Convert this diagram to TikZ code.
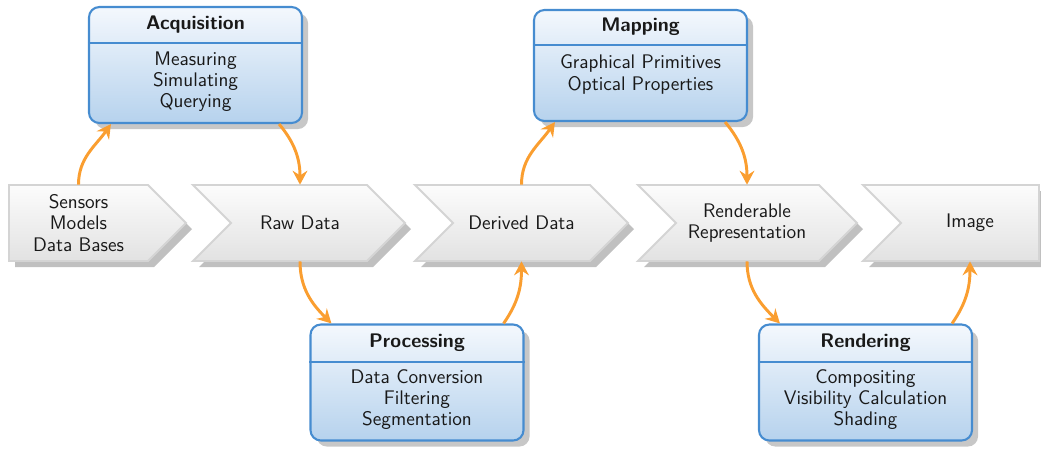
\documentclass[tikz,border=0pt]{standalone}
\usetikzlibrary{arrows.meta,calc,shadows}
\definecolor{boxblue}{RGB}{70,140,208}
\definecolor{boxtop}{RGB}{244,248,253}
\definecolor{boxbot}{RGB}{182,210,237}
\definecolor{flowcol}{RGB}{250,158,48}
\definecolor{chevline}{RGB}{212,212,212}
\definecolor{chevshade}{RGB}{192,192,192}
\definecolor{chevtop}{RGB}{252,252,252}
\definecolor{chevbot}{RGB}{226,226,226}
\definecolor{txt}{RGB}{25,25,25}
\newcommand\drawchev[1]{\fill[chevshadow] #1; \draw[chevbox] #1;}
\newcommand\splitline[2]{\coordinate (#1s) at (0,#2); \draw[boxbox,fill=none,general shadow={}] (#1.west |- #1s) -- (#1.east |- #1s);}
\newcommand\pipefont{\fontsize{11.3}{12.2}\selectfont\sffamily}
\begin{document}
\begin{tikzpicture}[x=0.575pt,y=-0.575pt,font=\pipefont,text=txt,
  chevshadow/.style={fill=chevshade,shift={(6,6)}},
  chevbox/.style={draw=chevline,line width=1.1pt,top color=chevtop,bottom color=chevbot,line join=miter},
  chevtext/.style={align=center,inner sep=0pt,minimum height=43.7pt},
  boxnode/.style={draw=boxblue,line width=1.2pt,rounded corners=6pt,top color=boxtop,bottom color=boxbot,
     minimum width=122.5pt,inner sep=0pt,general shadow={fill=black!22,shadow xshift=3.5pt,shadow yshift=-3.5pt}},
  boxbox/.style={draw=boxblue,line width=1.2pt},
  titletext/.style={font=\pipefont\bfseries,inner sep=0pt},
  bodytext/.style={align=center,inner sep=0pt},
  flow/.style={draw=flowcol,line width=1.7pt,-{Stealth[length=8pt,width=8.5pt,inset=2.7pt]}}]
\useasboundingbox (0,0) rectangle (1041,448);
% chevrons
\drawchev{(9,185) -- (148,185) -- (186,223) -- (148,261) -- (9,261) -- cycle}
\drawchev{(193,185) -- (367,185) -- (405,223) -- (367,261) -- (193,261) -- (231,223) -- cycle}
\drawchev{(415,185) -- (590,185) -- (628,223) -- (590,261) -- (415,261) -- (453,223) -- cycle}
\drawchev{(638,185) -- (819,185) -- (857,223) -- (819,261) -- (638,261) -- (676,223) -- cycle}
\drawchev{(863,185) -- (1039,185) -- (1039,261) -- (863,261) -- (901,223) -- cycle}
\node[chevtext] (sens) at (78.5,223) {Sensors\\Models\\Data Bases};
\node[chevtext] (raw) at (300,223) {Raw Data};
\node[chevtext] (der) at (521.5,223) {Derived Data};
\node[chevtext] (rend) at (747,223) {Renderable\\Representation};
\node[chevtext] (img) at (970,223) {Image};
% boxes
\node[boxnode,minimum height=66.7pt] (acq) at (195.5,65) {};
\splitline{acq}{43}
\node[titletext] (acqT) at (195.5,25) {Acquisition};
\node[bodytext] (acqB) at (195.5,81.5) {Measuring\\Simulating\\Querying};
\node[boxnode,minimum height=66.7pt] (proc) at (417,382.5) {};
\splitline{proc}{362}
\node[titletext] (procT) at (417,343) {Processing};
\node[bodytext] (procB) at (417,399.5) {Data Conversion\\Filtering\\Segmentation};
\node[boxnode,minimum height=63.8pt] (map) at (640.5,65.5) {};
\splitline{map}{45}
\node[titletext] (mapT) at (640.5,27) {Mapping};
\node[bodytext] (mapB) at (640.5,74.5) {Graphical Primitives\\Optical Properties};
\node[boxnode,minimum height=66.7pt] (rnd) at (865.5,382.5) {};
\splitline{rnd}{362}
\node[titletext] (rndT) at (865.5,343) {Rendering};
\node[bodytext] (rndB) at (865.5,399.5) {Compositing\\Visibility Calculation\\Shading};
% flows
\draw[flow] (sens.north) to[out=90,in=-125] ($(acq.south west)+(23,0)$);
\draw[flow] ($(acq.south east)+(-24,0)$) to[out=-50,in=90] (raw.north);
\draw[flow] (raw.south) to[out=-90,in=135] ($(proc.north west)+(22,0)$);
\draw[flow] ($(proc.north east)+(-21,0)$) to[out=55,in=-90] (der.south);
\draw[flow] (der.north) to[out=90,in=-125] ($(map.south west)+(22,0)$);
\draw[flow] ($(map.south east)+(-23,0)$) to[out=-50,in=90] (rend.north);
\draw[flow] (rend.south) to[out=-90,in=135] ($(rnd.north west)+(22,0)$);
\draw[flow] ($(rnd.north east)+(-21,0)$) to[out=55,in=-90] (img.south);
\end{tikzpicture}
\end{document}
